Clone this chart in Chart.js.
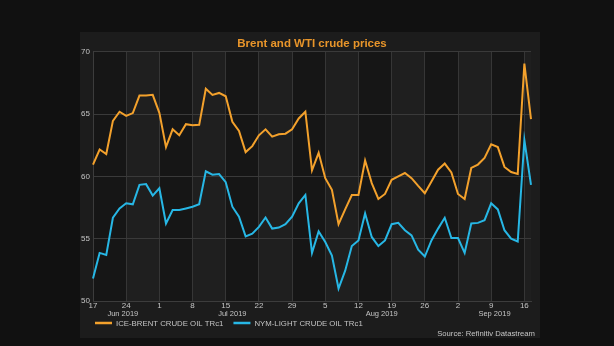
<!DOCTYPE html>
<html>
<head>
<meta charset="utf-8">
<script src="https://cdn.jsdelivr.net/npm/chart.js@4"></script>
<style>
  html, body { margin: 0; padding: 0; background: #111111; }
  #wrap { width: 614px; height: 346px; }
</style>
</head>
<body>
<div id="wrap"><canvas id="oilChart" width="614" height="346"></canvas></div>
<script>
// trading days shown on the chart
const dates = [
  '2019-06-17', '2019-06-18', '2019-06-19', '2019-06-20', '2019-06-21',
  '2019-06-24', '2019-06-25', '2019-06-26', '2019-06-27', '2019-06-28',
  '2019-07-01', '2019-07-02', '2019-07-03', '2019-07-04', '2019-07-05',
  '2019-07-08', '2019-07-09', '2019-07-10', '2019-07-11', '2019-07-12',
  '2019-07-15', '2019-07-16', '2019-07-17', '2019-07-18', '2019-07-19',
  '2019-07-22', '2019-07-23', '2019-07-24', '2019-07-25', '2019-07-26',
  '2019-07-29', '2019-07-30', '2019-07-31', '2019-08-01', '2019-08-02',
  '2019-08-05', '2019-08-06', '2019-08-07', '2019-08-08', '2019-08-09',
  '2019-08-12', '2019-08-13', '2019-08-14', '2019-08-15', '2019-08-16',
  '2019-08-19', '2019-08-20', '2019-08-21', '2019-08-22', '2019-08-23',
  '2019-08-26', '2019-08-27', '2019-08-28', '2019-08-29', '2019-08-30',
  '2019-09-02', '2019-09-03', '2019-09-04', '2019-09-05', '2019-09-06',
  '2019-09-09', '2019-09-10', '2019-09-11', '2019-09-12', '2019-09-13',
  '2019-09-16', '2019-09-17'
];

const brent = [
  60.95, 62.16, 61.80, 64.46, 65.19, 64.86, 65.08, 66.49, 66.49, 66.55,
  65.10, 62.35, 63.78, 63.30, 64.19, 64.10, 64.14, 67.03, 66.54, 66.70,
  66.43, 64.38, 63.65, 61.95, 62.43, 63.30, 63.78, 63.19, 63.38, 63.43,
  63.78, 64.65, 65.19, 60.49, 61.89, 59.86, 58.92, 56.16, 57.35, 58.51,
  58.51, 61.27, 59.46, 58.19, 58.59, 59.73, 60.00, 60.27, 59.86, 59.24,
  58.65, 59.59, 60.54, 61.03, 60.32, 58.59, 58.19, 60.68, 60.95, 61.49,
  62.57, 62.35, 60.76, 60.35, 60.19, 69.05, 64.60
];

const wti = [
  51.81, 53.86, 53.70, 56.68, 57.43, 57.84, 57.76, 59.32, 59.38, 58.46,
  59.05, 56.22, 57.30, 57.30, 57.43, 57.57, 57.76, 60.41, 60.14, 60.19,
  59.54, 57.57, 56.76, 55.19, 55.41, 55.95, 56.70, 55.81, 55.89, 56.16,
  56.76, 57.84, 58.51, 53.86, 55.59, 54.73, 53.65, 51.00, 52.43, 54.41,
  54.86, 57.03, 55.14, 54.41, 54.86, 56.16, 56.27, 55.68, 55.27, 54.11,
  53.57, 54.86, 55.81, 56.68, 55.05, 55.05, 53.86, 56.22, 56.27, 56.49,
  57.84, 57.35, 55.68, 55.00, 54.78, 62.92, 59.32
];

const seriesNames = ['ICE-BRENT CRUDE OIL TRc1', 'NYM-LIGHT CRUDE OIL TRc1'];
const seriesColors = ['#f3a12c', '#27b7e5'];
const monthNames = ['Jan', 'Feb', 'Mar', 'Apr', 'May', 'Jun', 'Jul', 'Aug', 'Sep', 'Oct', 'Nov', 'Dec'];
const yTicks = [50, 55, 60, 65, 70];
const titleText = 'Brent and WTI crude prices';
const sourceText = 'Source: Refinitiv Datastream';

const FONT = "'Liberation Sans', Arial, sans-serif";
const TEXT_GREY = '#c4c4c4';

function parseDay(s) {
    const p = s.split('-').map(Number);
    return new Date(p[0], p[1] - 1, p[2]);
}
function isMonday(i) {
    return parseDay(dates[i]).getDay() === 1;
}

// panel background and alternating weekly bands
const backdrop = {
    id: 'backdrop',
    beforeDraw(chart) {
        const ctx = chart.ctx;
        const area = chart.chartArea;
        const x = chart.scales.x;
        ctx.save();
        ctx.fillStyle = '#111111';
        ctx.fillRect(0, 0, chart.width, chart.height);
        ctx.fillStyle = '#1c1c1c';
        ctx.fillRect(80, 32, 460, 306);

        const edges = [];
        dates.forEach((d, i) => { if (isMonday(i)) edges.push(x.getPixelForValue(i)); });
        edges.push(area.right);
        for (let b = 0; b < edges.length - 1; b++) {
            ctx.fillStyle = b % 2 === 0 ? '#161616' : '#1f1f1f';
            ctx.fillRect(edges[b], area.top, edges[b + 1] - edges[b], area.bottom - area.top);
        }
        ctx.restore();
    }
};

// month labels under the day ticks, legend and source line
const extras = {
    id: 'extras',
    afterDraw(chart) {
        const ctx = chart.ctx;
        const x = chart.scales.x;
        ctx.save();
        ctx.fillStyle = TEXT_GREY;
        ctx.textBaseline = 'middle';

        // months: centred over the trading days of each month
        ctx.font = '7.5px ' + FONT;
        ctx.textAlign = 'center';
        const months = {};
        dates.forEach((d, i) => {
            const key = d.slice(0, 7);
            if (!months[key]) months[key] = [i, i];
            months[key][1] = i;
        });
        Object.keys(months).forEach(key => {
            const [first, last] = months[key];
            const dt = parseDay(dates[first]);
            const label = monthNames[dt.getMonth()] + ' ' + dt.getFullYear();
            ctx.fillText(label, x.getPixelForValue((first + last) / 2), 314);
        });

        // legend
        ctx.font = '7.8px ' + FONT;
        ctx.textAlign = 'left';
        let lx = 95;
        seriesNames.forEach((name, i) => {
            ctx.strokeStyle = seriesColors[i];
            ctx.lineWidth = 2.5;
            ctx.beginPath();
            ctx.moveTo(lx, 323);
            ctx.lineTo(lx + 17, 323);
            ctx.stroke();
            ctx.fillText(name, lx + 21, 323.5);
            lx += 21 + ctx.measureText(name).width + 10;
        });

        // source
        ctx.font = '7.7px ' + FONT;
        ctx.textAlign = 'right';
        ctx.fillText(sourceText, 535, 333.5);
        ctx.restore();
    }
};

document.addEventListener('DOMContentLoaded', function() {
    const ctx = document.getElementById('oilChart').getContext('2d');
    new Chart(ctx, {
        type: 'line',
        data: {
            labels: dates,
            datasets: [{
                label: seriesNames[0],
                data: brent,
                borderColor: seriesColors[0],
                borderWidth: 2,
                pointRadius: 0,
                tension: 0
            }, {
                label: seriesNames[1],
                data: wti,
                borderColor: seriesColors[1],
                borderWidth: 2,
                pointRadius: 0,
                tension: 0
            }]
        },
        options: {
            responsive: false,
            animation: false,
            layout: {
                padding: { left: 73, right: 83, top: 0, bottom: 0 }
            },
            plugins: {
                legend: { display: false },
                tooltip: { enabled: false },
                title: {
                    display: true,
                    fullSize: false,
                    text: titleText,
                    color: '#e8952a',
                    font: { family: FONT, size: 11.5, weight: 'bold' },
                    padding: { top: 37, bottom: 1 }
                }
            },
            scales: {
                x: {
                    type: 'category',
                    offset: false,
                    afterFit(scale) { scale.height = 45; },
                    grid: {
                        color: '#363636',
                        lineWidth: 1,
                        drawTicks: false
                    },
                    border: { color: '#3c3c3c' },
                    ticks: {
                        autoSkip: false,
                        maxRotation: 0,
                        padding: 0,
                        color: TEXT_GREY,
                        font: { family: FONT, size: 8 },
                        callback: function(value, index) {
                            return isMonday(index) ? parseDay(dates[index]).getDate() : null;
                        }
                    }
                },
                y: {
                    min: yTicks[0],
                    max: yTicks[yTicks.length - 1],
                    afterFit(scale) { scale.width = 20; },
                    afterBuildTicks(scale) { scale.ticks = yTicks.map(v => ({ value: v })); },
                    grid: {
                        color: '#3a3a3a',
                        lineWidth: 1,
                        drawTicks: false
                    },
                    border: { color: '#3c3c3c' },
                    ticks: {
                        padding: 3,
                        color: TEXT_GREY,
                        font: { family: FONT, size: 8 }
                    }
                }
            }
        },
        plugins: [backdrop, extras]
    });
});
</script>
</body>
</html>
